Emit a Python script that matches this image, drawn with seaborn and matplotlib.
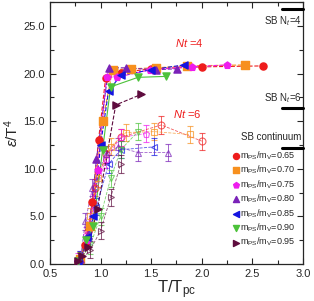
import numpy as np
import pandas as pd
import matplotlib
matplotlib.use("Agg")
import matplotlib.pyplot as plt
import seaborn as sns
from matplotlib.ticker import MultipleLocator

# mass ratios / colors / markers
ratios = ["0.65", "0.70", "0.75", "0.80", "0.85", "0.90", "0.95"]
colors = ["#ee1c1c", "#f7901e", "#ee1cee", "#7a22b8", "#1414e0", "#4cc23a", "#5e0c3e"]
markers = ["o", "s", "p", "^", "<", "v", ">"]

# Nt=4 (filled symbols)
t4_065 = [0.78, 0.85, 0.92, 0.98, 1.05, 1.2, 1.5, 2.0, 2.6]
e4_065 = [0.3, 2.0, 6.5, 13.0, 19.5, 20.1, 20.5, 20.7, 20.8]
t4_070 = [0.8, 0.9, 1.02, 1.12, 1.3, 1.55, 1.85, 2.43]
e4_070 = [0.5, 4.0, 15.0, 20.4, 20.5, 20.6, 20.8, 20.9]
t4_075 = [0.78, 0.87, 0.97, 1.06, 1.16, 1.49, 1.9, 2.25]
e4_075 = [0.3, 2.5, 9.9, 19.6, 19.6, 20.4, 20.7, 20.9]
t4_080 = [0.8, 0.88, 0.96, 1.08, 1.25, 1.55, 1.76]
e4_080 = [0.5, 3.0, 11.0, 20.6, 20.6, 20.4, 20.5]
t4_085 = [0.78, 0.87, 0.93, 1.0, 1.08, 1.2, 1.5, 1.82]
e4_085 = [0.3, 2.8, 5.0, 12.5, 18.2, 19.8, 20.4, 20.9]
t4_090 = [0.78, 0.86, 0.93, 1.02, 1.1, 1.37, 1.65]
e4_090 = [0.3, 2.5, 4.0, 12.0, 18.6, 19.6, 19.7]
t4_095 = [0.78, 0.82, 0.88, 0.97, 1.15, 1.4]
e4_095 = [0.3, 0.8, 1.8, 5.8, 16.7, 17.8]

# Nt=6 (open symbols with error bars)
t6_065 = [0.8, 0.88, 0.95, 1.05, 1.2, 1.6, 2.0]
e6_065 = [0.3, 3.5, 8.0, 11.5, 13.3, 14.6, 12.9]
t6_070 = [0.8, 0.9, 0.97, 1.1, 1.25, 1.53, 1.88]
e6_070 = [0.4, 5.0, 9.0, 12.3, 13.8, 13.9, 13.6]
t6_075 = [0.78, 0.86, 0.93, 1.05, 1.2, 1.45]
e6_075 = [0.3, 3.0, 6.5, 11.0, 13.3, 13.7]
t6_080 = [0.8, 0.85, 0.92, 1.05, 1.17, 1.37, 1.67]
e6_080 = [0.5, 4.5, 8.0, 11.5, 12.3, 11.7, 11.7]
t6_085 = [0.8, 0.88, 0.96, 1.08, 1.2, 1.53]
e6_085 = [0.5, 3.0, 6.0, 10.5, 12.0, 12.3]
t6_090 = [0.8, 0.9, 1.0, 1.1, 1.2, 1.37]
e6_090 = [0.4, 2.0, 5.0, 9.0, 12.0, 13.9]
t6_095 = [0.8, 0.9, 1.0, 1.1, 1.2]
e6_095 = [0.3, 1.5, 3.5, 7.0, 10.5]
err6 = 0.9

nt4 = [(t4_065, e4_065), (t4_070, e4_070), (t4_075, e4_075), (t4_080, e4_080),
       (t4_085, e4_085), (t4_090, e4_090), (t4_095, e4_095)]
nt6 = [(t6_065, e6_065), (t6_070, e6_070), (t6_075, e6_075), (t6_080, e6_080),
       (t6_085, e6_085), (t6_090, e6_090), (t6_095, e6_095)]

# Stefan-Boltzmann limits
sb_labels = ["SB N$_t$=4", "SB N$_t$=6", "SB continuum"]
sb_values = [26.8, 16.4, 12.2]
sb_label_y = [25.5, 17.4, 13.3]

sns.set_style("ticks")
plt.rcParams['font.family'] = ['Liberation Sans', 'DejaVu Sans']
plt.rcParams['mathtext.fontset'] = 'custom'
plt.rcParams['mathtext.rm'] = 'Liberation Sans'
plt.rcParams['mathtext.it'] = 'Liberation Sans:italic'

fig = plt.figure(figsize=(3.14, 3.01), dpi=100)
ax = fig.add_axes([0.159, 0.123, 0.806, 0.870])

# Nt=6 first (background)
for (t, e), c, m in zip(nt6, colors, markers):
    ax.errorbar(t, e, yerr=err6, color=c, marker=m, mfc="none", ms=5, mew=0.8,
                lw=0.6, ls="--", elinewidth=0.7, capsize=2.5, alpha=0.7)

handles = []
for (t, e), c, m, r in zip(nt4, colors, markers, ratios):
    df = pd.DataFrame({"T": t, "eps": e})
    ls = "-" if r == "0.90" else "--"
    sns.lineplot(data=df, x="T", y="eps", ax=ax, color=c, lw=0.8, ls=ls)
    h = ax.scatter(t, e, color=c, marker=m, s=26, zorder=5,
                   label=r"m$_{\mathrm{PS}}$/m$_{\mathrm{V}}$=" + r)
    handles.append(h)

# SB lines on the right
for lab, v, ly in zip(sb_labels, sb_values, sb_label_y):
    ax.plot([2.79, 3.0], [v, v], color="black", lw=2.2, clip_on=False, zorder=6)
    ax.text(2.985, ly, lab, ha="right", va="center", fontsize=7)

ax.text(1.88, 23.2, r"$Nt$ =4", color="#ee1c1c", fontsize=8, ha="center", va="center")
ax.text(1.86, 15.7, r"$Nt$ =6", color="#ee1c1c", fontsize=8, ha="center", va="center")

ax.legend(handles=handles, loc="lower right", bbox_to_anchor=(0.995, 0.035),
          frameon=False, fontsize=6.5, handletextpad=0.0, labelspacing=0.22,
          borderpad=0.2, handlelength=1.0, markerscale=0.85)

ax.set_xlim(0.5, 3.0)
ax.set_ylim(0, 27.5)
ax.xaxis.set_major_locator(MultipleLocator(0.5))
ax.xaxis.set_minor_locator(MultipleLocator(0.25))
ax.yaxis.set_major_locator(MultipleLocator(5))
ax.yaxis.set_minor_locator(MultipleLocator(2.5))
ax.yaxis.set_major_formatter(matplotlib.ticker.FormatStrFormatter("%.1f"))
ax.xaxis.set_major_formatter(matplotlib.ticker.FormatStrFormatter("%.1f"))
ax.tick_params(which="both", direction="in", top=True, right=True, labelsize=8, width=0.8)
ax.tick_params(which="major", length=4)
ax.tick_params(which="minor", length=3)
for s in ax.spines.values():
    s.set_linewidth(0.9)

ax.set_xlabel(r"T/T$_{\mathrm{pc}}$", fontsize=12, labelpad=0)
ax.set_ylabel(r"$\varepsilon$/T$^{4}$", fontsize=11, labelpad=2)

fig.savefig("out.png", dpi=100)
